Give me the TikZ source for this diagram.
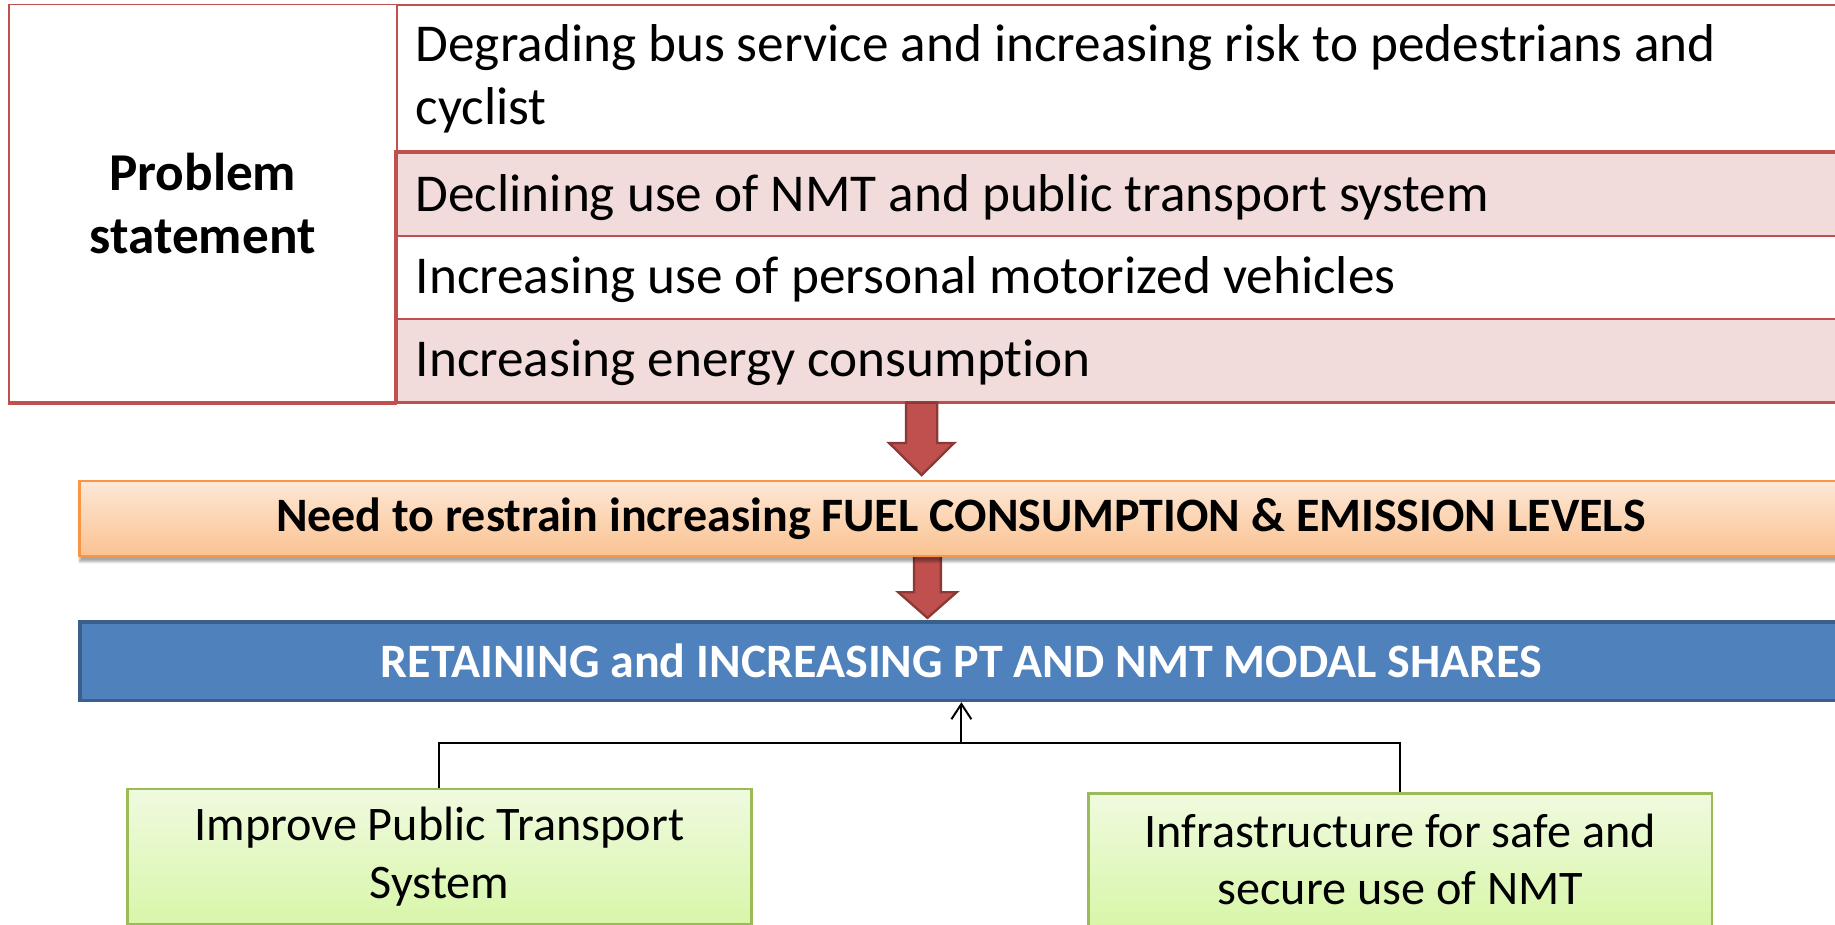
\documentclass[tikz,border=0pt]{standalone}
\usepackage{fontspec}
\setmainfont{Carlito}[Ligatures=NoCommon]
\usetikzlibrary{arrows.meta,shadows.blur}

\definecolor{tabred}{HTML}{C0504D}
\definecolor{tabpink}{HTML}{F2DCDB}
\definecolor{arrowedge}{HTML}{8C3836}
\definecolor{orgedge}{HTML}{F79646}
\definecolor{orgtop}{HTML}{FDE8D6}
\definecolor{orgbot}{HTML}{FAC291}
\definecolor{blufill}{HTML}{4F81BD}
\definecolor{bluedge}{HTML}{3A5F8B}
\definecolor{grnedge}{HTML}{9BBB59}
\definecolor{grntop}{HTML}{F0FADF}
\definecolor{grnbot}{HTML}{D8F6A9}

\begin{document}
\begin{tikzpicture}[x=1pt, y=-1pt,
  probcell/.style={draw=tabred, line width=1.5, fill=white, anchor=north west,
    minimum width=331, minimum height=340, inner sep=0, align=flush center,
    font=\fontsize{45.5}{54}\selectfont\bfseries},
  rowcell/.style={draw=tabred, line width=2, anchor=north west,
    minimum width=1250, inner sep=0},
  rowtext/.style={anchor=base west, inner sep=0, text width=1200, align=flush left,
    font=\fontsize{45.5}{54}\selectfont},
  bararrow/.style={fill=tabred, draw=arrowedge, line width=2, line join=miter},
  needbox/.style={draw=orgedge, line width=2, top color=orgtop, bottom color=orgbot,
    anchor=north west, inner sep=0, minimum width=1506, minimum height=64,
    font=\fontsize{41}{48}\selectfont\bfseries,
    blur shadow={shadow xshift=0pt, shadow yshift=-5pt, shadow blur steps=6, shadow opacity=35}},
  goalbox/.style={draw=bluedge, line width=3, fill=blufill, text=white,
    anchor=north west, inner sep=0, minimum width=1506, minimum height=67,
    font=\fontsize{41}{48}\selectfont\bfseries},
  measure/.style={draw=grnedge, line width=2, top color=grntop, bottom color=grnbot,
    anchor=north west, inner sep=0, minimum width=533, align=flush center,
    font=\fontsize{41.2}{49}\selectfont},
  conn/.style={draw=black, line width=1.7}]

\useasboundingbox (0,0) rectangle (1568,790);
\clip (0,0) rectangle (1568,790);

% problem statement table
\node[probcell] (prob) at (7,3) {Problem\\statement};
\node[rowcell, fill=white, minimum height=126.5] (r1) at (338,3) {};
\node[rowcell, fill=tabpink, minimum height=71] (r2) at (338,129.5) {};
\node[rowcell, fill=white, minimum height=71] (r3) at (338,200.5) {};
\node[rowcell, fill=tabpink, minimum height=71.5] (r4) at (338,271.5) {};
% heavier rules framing the lower rows
\draw[tabred, line width=3.5] (r2.north east) -- (r2.north west) -- (r4.south west);
\draw[tabred, line width=3.5] (prob.south west) -- (prob.south east);

% row texts, set on their baselines
\node[rowtext] (t1) at (355,52.7)
  {Degrading bus service and increasing risk to pedestrians and\\cyclist};
\node[rowtext] (t2) at (355,180.9) {Declining use of NMT and public transport system};
\node[rowtext] (t3) at (355,250.6) {Increasing use of personal motorized vehicles};
\node[rowtext] (t4) at (355,321.9) {Increasing energy consumption};

% block arrows
\filldraw[bararrow] (774.2,344) -- (800.8,344) -- (800.8,378.5) -- (815.3,378.5)
  -- (787.5,406) -- (759.7,378.5) -- (774.2,378.5) -- cycle;
\filldraw[bararrow] (781,473) -- (804,473) -- (804,506) -- (817.5,506)
  -- (792.5,528) -- (767.5,506) -- (781,506) -- cycle;

% need and goal bars
\node[needbox] (need) at (67,410)
  {Need to restrain increasing FUEL CONSUMPTION \& EMISSION LEVELS};
\node[goalbox] (goal) at (67,530)
  {RETAINING and INCREASING PT AND NMT MODAL SHARES};

% measures
\node[measure, minimum height=116] (pt) at (108,673)
  {Improve Public Transport\\System};
\node[measure, minimum height=113] (nmt) at (929,677)
  {Infrastructure for safe and\\secure use of NMT};

% connectors
\coordinate (join) at (goal.south |- 0,635);
\draw[conn] (pt.north) |- (join);
\draw[conn] (nmt.north) |- (join);
\draw[conn, -{Straight Barb[length=13pt, width=17pt, line width=1.7pt]}] (join) -- (goal.south);

\end{tikzpicture}
\end{document}
